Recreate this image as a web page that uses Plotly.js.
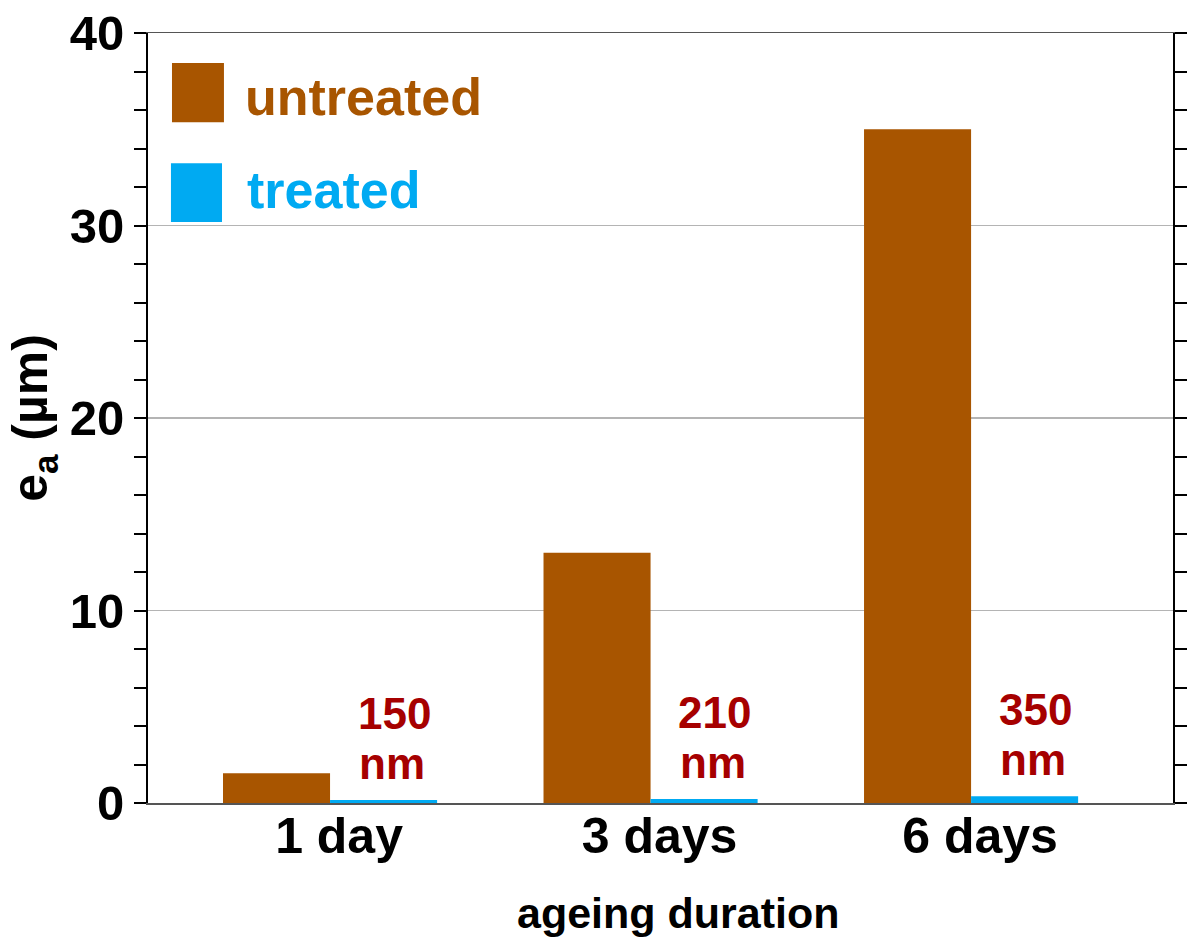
<!DOCTYPE html>
<html>
<head>
<meta charset="utf-8">
<script src="https://cdn.plot.ly/plotly-3.0.1.min.js"></script>
<style>html,body{margin:0;padding:0;background:#fff;}#chart{width:1190px;height:940px;}</style>
</head>
<body>
<div id="chart"></div>
<script>
const categories = ['1 day', '3 days', '6 days'];
const seriesNames = ['untreated', 'treated'];
const untreated = [1.55, 13.0, 35.0];      // µm
const treated = [0.15, 0.21, 0.35];        // µm
const treatedLabelNumbers = ['150', '210', '350'];
const treatedLabelUnit = 'nm';
const yTickVals = [0, 10, 20, 30, 40];
const xTitle = 'ageing duration';
const yTitle = 'e<sub>a</sub> (µm)';

const BROWN = '#A85500';
const BLUE = '#00AAF2';
const LABEL_RED = '#A60000';
const FONT = 'Liberation Sans, Arial, sans-serif';

const traces = [
  {type: 'bar', name: seriesNames[0], x: categories, y: untreated,
   marker: {color: BROWN, line: {width: 0}}, hoverinfo: 'none'},
  {type: 'bar', name: seriesNames[1], x: categories, y: treated,
   marker: {color: BLUE, line: {width: 0}}, hoverinfo: 'none'}
];

const labelFont = {family: FONT, size: 44, color: LABEL_RED, weight: 'bold'};
const annotations = [];
categories.forEach((c, i) => {
  annotations.push({
    x: c, y: treated[i], xref: 'x', yref: 'y',
    text: treatedLabelUnit, showarrow: false,
    xanchor: 'center', yanchor: 'bottom', xshift: 62, yshift: 10,
    font: labelFont
  });
  annotations.push({
    x: c, y: treated[i], xref: 'x', yref: 'y',
    text: treatedLabelNumbers[i], showarrow: false,
    xanchor: 'center', yanchor: 'bottom', xshift: 64, yshift: 60,
    font: labelFont
  });
});

// custom legend (large swatches)
const legendItems = [
  {name: seriesNames[0], color: BROWN, sq: [0.0234, 0.0741, 0.884, 0.961], tx: 0.093, ty: 0.917},
  {name: seriesNames[1], color: BLUE, sq: [0.0224, 0.0722, 0.7545, 0.831], tx: 0.095, ty: 0.796}
];
const shapes = [];
legendItems.forEach(it => {
  shapes.push({type: 'rect', xref: 'paper', yref: 'paper',
    x0: it.sq[0], x1: it.sq[1], y0: it.sq[2], y1: it.sq[3],
    fillcolor: it.color, line: {width: 0}});
  annotations.push({xref: 'paper', yref: 'paper', x: it.tx, y: it.ty,
    xanchor: 'left', yanchor: 'middle', showarrow: false, text: it.name,
    font: {family: FONT, size: 52, color: it.color, weight: 'bold'}});
});

// x-axis title (placed slightly right of centre as in the reference)
annotations.push({xref: 'paper', yref: 'paper', x: 0.5175, y: -0.143,
  xanchor: 'center', yanchor: 'middle', showarrow: false, text: xTitle,
  font: {family: FONT, size: 43, color: '#000', weight: 'bold'}});

const layout = {
  width: 1190, height: 940,
  margin: {l: 148, r: 17, t: 33, b: 137},
  paper_bgcolor: '#fff', plot_bgcolor: '#fff',
  showlegend: false,
  barmode: 'group', bargap: 0.332, bargroupgap: 0,
  font: {family: FONT, color: '#000'},
  xaxis: {
    type: 'category', range: [-0.568, 2.63],
    showline: true, linecolor: '#555', linewidth: 1.5, mirror: true,
    ticks: '', showgrid: false, zeroline: false,
    ticklabelshift: 9, ticklabelstandoff: -12,
    tickfont: {family: FONT, size: 50, color: '#000', weight: 'bold'}
  },
  yaxis: {
    range: [0, 40], tickvals: yTickVals, ticktext: yTickVals.map(String),
    showline: true, linecolor: '#000', linewidth: 2, mirror: 'allticks',
    ticks: 'outside', ticklen: 12, tickwidth: 2, tickcolor: '#000',
    minor: {dtick: 2, ticks: 'outside', ticklen: 12, tickwidth: 2, tickcolor: '#000', showgrid: false},
    showgrid: true, gridcolor: '#b4b4b4', gridwidth: 1.5, zeroline: false,
    tickfont: {family: FONT, size: 49, color: '#000', weight: 'bold'},
    title: {text: yTitle, standoff: 6,
      font: {family: FONT, size: 50, color: '#000', weight: 'bold'}}
  },
  shapes: shapes,
  annotations: annotations
};

Plotly.newPlot('chart', traces, layout, {displayModeBar: false, staticPlot: true});
</script>
</body>
</html>
